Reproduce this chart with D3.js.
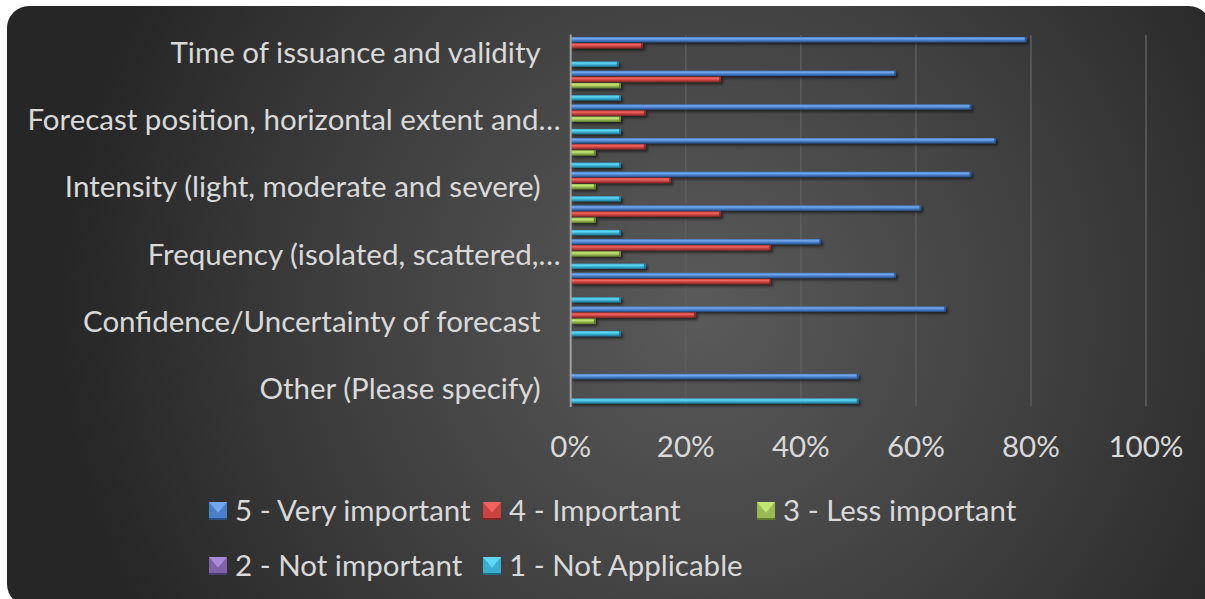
<!DOCTYPE html>
<html>
<head>
<meta charset="utf-8">
<script src="https://cdn.jsdelivr.net/npm/d3@7"></script>
<style>
  html, body { margin: 0; padding: 0; background: #ffffff; }
  svg { display: block; }
  text { font-family: Lato, "Open Sans", sans-serif; fill: #d9d9d9; }
</style>
</head>
<body>
<svg id="chart" width="1205" height="599"></svg>
<script>
// ---- DATA ----
const categories = [
  "Time of issuance and validity", "",
  "Forecast position, horizontal extent and…", "",
  "Intensity (light, moderate and severe)", "",
  "Frequency (isolated, scattered,…", "",
  "Confidence/Uncertainty of forecast", "",
  "Other (Please specify)"
];
const seriesNames = ["5 - Very important", "4 - Important", "3 - Less important", "2 - Not important", "1 - Not Applicable"];
const veryImportant = [79.2, 56.5, 69.6, 73.9, 69.6, 60.9, 43.5, 56.5, 65.2, 0, 50];
const important     = [12.5, 26.1, 13.0, 13.0, 17.4, 26.1, 34.8, 34.8, 21.7, 0, 0];
const lessImportant = [0, 8.7, 8.7, 4.3, 4.3, 4.3, 8.7, 0, 4.3, 0, 0];
const notImportant  = [0, 0, 0, 0, 0, 0, 0, 0, 0, 0, 0];
const notApplicable = [8.3, 8.7, 8.7, 8.7, 8.7, 8.7, 13.0, 8.7, 8.7, 0, 50];
const seriesValues = [veryImportant, important, lessImportant, notImportant, notApplicable];
const xTicks = [0, 20, 40, 60, 80, 100];

// ---- STYLE ----
const palette = [
  {base: "#4a80c8", light: "#72a8f0", dark: "#274f88"},
  {base: "#c8423f", light: "#f06460", dark: "#7e2624"},
  {base: "#98b954", light: "#c6e674", dark: "#5f7a28"},
  {base: "#7e62a8", light: "#a88ad8", dark: "#4e3a72"},
  {base: "#3aaed0", light: "#5ed8f6", dark: "#1d6f88"}
];
const fontSize = "29.5px";

const svg = d3.select("#chart");
const defs = svg.append("defs");

const bg = defs.append("radialGradient").attr("id", "bg")
  .attr("gradientUnits", "userSpaceOnUse")
  .attr("cx", 700).attr("cy", 310).attr("r", 640);
bg.append("stop").attr("offset", "0%").attr("stop-color", "#5a5a5a");
bg.append("stop").attr("offset", "55%").attr("stop-color", "#3f3f3f");
bg.append("stop").attr("offset", "100%").attr("stop-color", "#262626");

const shadow = defs.append("filter").attr("id", "shadow")
  .attr("x", "-5%").attr("y", "-50%").attr("width", "115%").attr("height", "250%");
shadow.append("feDropShadow").attr("dx", 2).attr("dy", 2).attr("stdDeviation", 1.4)
  .attr("flood-color", "#000").attr("flood-opacity", 0.6);

palette.forEach((c, i) => {
  const g = defs.append("linearGradient").attr("id", "bar" + i)
    .attr("x1", 0).attr("y1", 0).attr("x2", 0).attr("y2", 1);
  g.append("stop").attr("offset", "0%").attr("stop-color", c.base);
  g.append("stop").attr("offset", "30%").attr("stop-color", c.light);
  g.append("stop").attr("offset", "60%").attr("stop-color", c.base);
  g.append("stop").attr("offset", "100%").attr("stop-color", c.dark);
});

// background panel
svg.append("rect").attr("x", 7).attr("y", 6).attr("width", 1204).attr("height", 600)
  .attr("rx", 22).attr("ry", 22).attr("fill", "url(#bg)");

// ---- SCALES ----
const plot = {left: 570.7, right: 1146, top: 35.5, bottom: 406};
const x = d3.scaleLinear().domain([0, 100]).range([plot.left, plot.right]);
const y = d3.scaleBand().domain(d3.range(categories.length))
  .range([plot.top, plot.bottom]).paddingInner(0.09).paddingOuter(0.045);
const ySub = d3.scaleBand().domain(d3.range(seriesNames.length)).range([0, y.bandwidth()]);

// gridlines
svg.append("g").selectAll("line").data(xTicks.filter(t => t > 0)).join("line")
  .attr("x1", d => x(d)).attr("x2", d => x(d))
  .attr("y1", plot.top - 0.5).attr("y2", plot.bottom + 0.5)
  .attr("stroke", "#5e5e5e").attr("stroke-width", 1.5);

// bars
const barData = [];
seriesValues.forEach((vals, s) => vals.forEach((v, c) => { if (v > 0) barData.push({s, c, v}); }));
const bars = svg.append("g").attr("filter", "url(#shadow)");
const bh = ySub.bandwidth() - 0.8;
bars.selectAll("rect.bar").data(barData).join("rect").attr("class", "bar")
  .attr("x", x(0)).attr("y", d => y(d.c) + ySub(d.s))
  .attr("width", d => x(d.v) - x(0)).attr("height", bh)
  .attr("fill", d => `url(#bar${d.s})`);
bars.selectAll("rect.cap").data(barData).join("rect").attr("class", "cap")
  .attr("x", d => x(d.v) - 1.6).attr("y", d => y(d.c) + ySub(d.s))
  .attr("width", 1.6).attr("height", bh)
  .attr("fill", d => palette[d.s].dark).attr("opacity", 0.9);

// vertical axis line
svg.append("line").attr("x1", x(0)).attr("x2", x(0))
  .attr("y1", plot.top - 1).attr("y2", plot.bottom + 1)
  .attr("stroke", "#a0a0a0").attr("stroke-width", 2);

// category labels (only every other one is shown, like the reference)
svg.append("g").selectAll("text").data(categories.map((t, i) => ({t, i})).filter(d => d.t))
  .join("text")
  .attr("x", d => x(0) - (d.t.endsWith("…") ? 10 : 30))
  .attr("y", d => y(d.i) + y.bandwidth() / 2)
  .attr("dy", "0.35em")
  .attr("text-anchor", "end")
  .style("font-size", fontSize)
  .text(d => d.t);

// x tick labels
svg.append("g").selectAll("text").data(xTicks).join("text")
  .attr("x", d => x(d)).attr("y", 447).attr("dy", "0.35em")
  .attr("text-anchor", "middle").style("font-size", fontSize)
  .text(d => d + "%");

// legend
const legendPos = [[209, 511], [483, 511], [757, 511], [209, 566], [483, 566]];
const lg = svg.append("g").selectAll("g").data(seriesNames).join("g")
  .attr("transform", (d, i) => `translate(${legendPos[i][0]},${legendPos[i][1]})`);
const m = 18;
lg.append("rect").attr("x", 0).attr("y", -m / 2).attr("width", m).attr("height", m)
  .attr("fill", (d, i) => palette[i].base);
lg.append("path").attr("d", `M0,${-m/2} L${m},${-m/2} L${m/2},${m*0.1} Z`)
  .attr("fill", (d, i) => palette[i].light);
lg.append("path").attr("d", `M1,${m/2} L${m-1},${m/2} L${m/2},${m*0.15} Z`)
  .attr("fill", (d, i) => palette[i].base);
lg.append("rect").attr("x", 0).attr("y", m / 2 - 2).attr("width", m).attr("height", 2)
  .attr("fill", (d, i) => palette[i].dark);
lg.append("text").attr("x", 26).attr("dy", "0.35em").style("font-size", fontSize).text(d => d);
</script>
</body>
</html>
